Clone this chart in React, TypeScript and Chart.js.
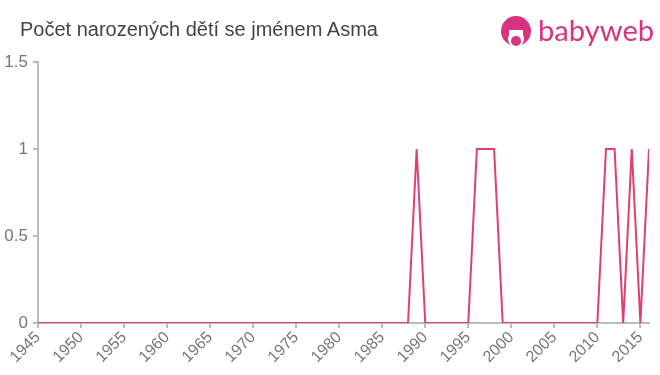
import React, { useEffect, useRef } from "react";
import { Chart, registerables } from "chart.js";

Chart.register(...registerables);

const title = "Počet narozených dětí se jménem Asma";
const years = [
  1945, 1946, 1947, 1948, 1949, 1950, 1951, 1952, 1953, 1954, 1955, 1956, 1957, 1958, 1959,
  1960, 1961, 1962, 1963, 1964, 1965, 1966, 1967, 1968, 1969, 1970, 1971, 1972, 1973, 1974,
  1975, 1976, 1977, 1978, 1979, 1980, 1981, 1982, 1983, 1984, 1985, 1986, 1987, 1988, 1989,
  1990, 1991, 1992, 1993, 1994, 1995, 1996, 1997, 1998, 1999, 2000, 2001, 2002, 2003, 2004,
  2005, 2006, 2007, 2008, 2009, 2010, 2011, 2012, 2013, 2014, 2015, 2016,
];
const counts = [
  0, 0, 0, 0, 0, 0, 0, 0, 0, 0, 0, 0, 0, 0, 0,
  0, 0, 0, 0, 0, 0, 0, 0, 0, 0, 0, 0, 0, 0, 0,
  0, 0, 0, 0, 0, 0, 0, 0, 0, 0, 0, 0, 0, 0, 1,
  0, 0, 0, 0, 0, 0, 1, 1, 1, 0, 0, 0, 0, 0, 0,
  0, 0, 0, 0, 0, 0, 1, 1, 0, 1, 0, 1,
];
const xTicks = [1945, 1950, 1955, 1960, 1965, 1970, 1975, 1980, 1985, 1990, 1995, 2000, 2005, 2010, 2015];
const yTicks = [0, 0.5, 1, 1.5];

export default function App() {
  const ref = useRef<HTMLCanvasElement>(null);
  useEffect(() => {
    if (!ref.current) return;
    const chart = new Chart(ref.current, {
      type: "line",
      data: {
        datasets: [
          {
            data: years.map((y, i) => ({ x: y, y: counts[i] })),
            borderColor: "#e0406f",
            borderWidth: 2,
            pointRadius: 0,
            tension: 0,
            fill: false,
          },
        ],
      },
      options: {
        animation: false,
        responsive: false,
        devicePixelRatio: 1,
        layout: { padding: { left: 0, right: 11, top: 62, bottom: 0 } },
        plugins: { legend: { display: false }, tooltip: { enabled: false } },
        scales: {
          x: {
            type: "linear",
            min: 1945,
            max: 2016,
            afterBuildTicks: (s: any) => {
              s.ticks = xTicks.map((v) => ({ value: v }));
            },
            afterFit: (s: any) => {
              s.height = 52;
            },
            ticks: {
              autoSkip: false,
              minRotation: 45,
              maxRotation: 45,
              color: "#777",
              font: { family: "Liberation Sans, Arial", size: 16 },
              padding: 0,
              callback: (v: any) => String(v),
            },
            grid: { drawOnChartArea: false, drawTicks: true, tickLength: 5, color: "#bbb", lineWidth: 2 },
            border: { color: "#bbb", width: 2 },
          },
          y: {
            min: 0,
            max: 1.5,
            afterBuildTicks: (s: any) => {
              s.ticks = yTicks.map((v) => ({ value: v }));
            },
            afterFit: (s: any) => {
              s.width = 38;
            },
            ticks: {
              color: "#777",
              font: { family: "Liberation Sans, Arial", size: 17 },
              padding: 5,
              callback: (v: any) => String(v),
            },
            grid: { drawOnChartArea: false, drawTicks: true, tickLength: 5, color: "#bbb", lineWidth: 2 },
            border: { color: "#bbb", width: 2 },
          },
        },
      },
    });
    return () => chart.destroy();
  }, []);
  return (
    <div style={{ position: "fixed", left: 0, top: 0, width: 660, height: 375, background: "#fff", overflow: "hidden" }}>
      <canvas ref={ref} width={660} height={375} style={{ position: "absolute", left: 0, top: 0, width: 660, height: 375 }} />
      <div
        style={{
          position: "absolute",
          left: 20,
          top: 18,
          fontFamily: "Liberation Sans, Arial, sans-serif",
          fontSize: 20,
          color: "#444",
          whiteSpace: "nowrap",
        }}
      >
        {title}
      </div>
      <div style={{ position: "absolute", left: 500, top: 16, width: 160, height: 34 }}>
        <svg width="34" height="34" viewBox="0 0 34 34" style={{ position: "absolute", left: 0, top: 0 }}>
          <circle cx="16" cy="15" r="15" fill="#d9337f" />
          <circle cx="16" cy="23" r="8" fill="#fff" />
          <circle cx="16" cy="25" r="5" fill="#d9337f" />
          <rect x="9" y="14" width="14" height="5" fill="#fff" />
        </svg>
        <div
          style={{
            position: "absolute",
            left: 38,
            top: -3,
            fontFamily: "Lato, Open Sans, sans-serif",
            fontSize: 28,
            color: "#d9337f",
            transform: "scaleX(1.04)",
            transformOrigin: "0 0",
            whiteSpace: "nowrap",
          }}
        >
          babyweb
        </div>
      </div>
    </div>
  );
}
